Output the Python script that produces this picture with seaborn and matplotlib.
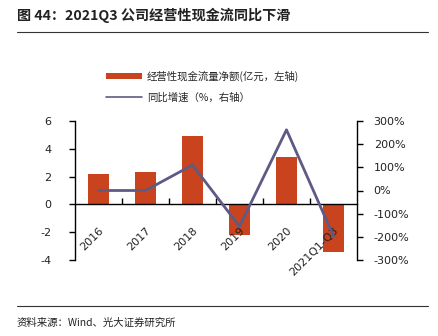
import numpy as np
import pandas as pd
import matplotlib
matplotlib.use("Agg")
import matplotlib.pyplot as plt
from matplotlib.ticker import FixedLocator
from matplotlib.patches import Patch
from matplotlib.lines import Line2D
import seaborn as sns

categories = ["2016", "2017", "2018", "2019", "2020", "2021Q1-Q3"]
cash_flow = [2.2, 2.3, 4.9, -2.2, 3.4, -3.4]          # 亿元, left axis
growth_pct = [0, 0, 110, -155, 262, -197]               # %, right axis
left_ticks = [-4, -2, 0, 2, 4, 6]
right_ticks = [-300, -200, -100, 0, 100, 200, 300]

title = "图 44：2021Q3 公司经营性现金流同比下滑"
source = "资料来源：Wind、光大证券研究所"
bar_label = "经营性现金流量净额(亿元，左轴)"
line_label = "同比增速（%，右轴）"

sns.set_theme(style="white")
plt.rcParams["font.family"] = ["DejaVu Sans", "Noto Sans CJK SC"]
plt.rcParams["axes.axisbelow"] = False

bar_color = "#C9431F"
line_color = "#5D5B85"
tick_color = "#222222"

fig = plt.figure(figsize=(4.38, 3.36), dpi=100)
ax = fig.add_axes([75 / 438, 1 - 260 / 336, (357 - 75) / 438, (260 - 121) / 336])

df = pd.DataFrame({"cat": categories, "val": cash_flow})
sns.barplot(data=df, x="cat", y="val", color=bar_color, width=0.43, saturation=1,
            ax=ax, edgecolor="none")
ax.set_axisbelow(False)
ax.set_xlim(-0.5, len(categories) - 0.5)
ax.set_ylim(-4, 6)
ax.set_xlabel("")
ax.set_ylabel("")

ax2 = ax.twinx()
sns.lineplot(x=np.arange(len(categories)), y=growth_pct, ax=ax2, color=line_color,
             linewidth=2, legend=False)
ax2.set_ylim(-300, 300)
ax2.set_xlim(-0.5, len(categories) - 0.5)

# spines
ax.spines["top"].set_visible(False)
ax2.spines["top"].set_visible(False)
ax2.spines["bottom"].set_visible(False)
ax2.spines["left"].set_visible(False)
ax.spines["right"].set_visible(False)
ax.spines["bottom"].set_position(("data", 0))
for a, s in [(ax, "left"), (ax, "bottom"), (ax2, "right")]:
    a.spines[s].set_color("#000000")
    a.spines[s].set_linewidth(1.0)

ax.set_yticks(left_ticks)
ax.set_yticklabels([str(t) for t in left_ticks])
ax.tick_params(axis="y", direction="out", length=4, width=1, color="black",
               labelsize=8, labelcolor=tick_color, pad=13, left=True)

ax2.set_yticks(right_ticks)
ax2.set_yticklabels([f"{t}%" for t in right_ticks])
ax2.tick_params(axis="y", direction="out", length=4, width=1, color="black",
                labelsize=8, labelcolor=tick_color, pad=8, right=True)

ax.set_xticks(range(len(categories)))
ax.set_xticklabels(categories, rotation=45, ha="right", rotation_mode="anchor")
ax.tick_params(axis="x", length=0, labelsize=8, labelcolor=tick_color, pad=15)
ax.xaxis.set_minor_locator(FixedLocator(np.arange(0.5, len(categories) - 1, 1)))
ax.tick_params(axis="x", which="minor", direction="in", length=4, width=1,
               color="black", bottom=True)
for lbl in ax.get_xticklabels():
    lbl.set_zorder(5)

# legend
handles = [Patch(facecolor=bar_color, edgecolor="none"),
           Line2D([0], [0], color=line_color, linewidth=1.2)]
fig.legend(handles, [bar_label, line_label], loc="upper left",
           bbox_to_anchor=(97 / 438, 1 - 61 / 336), frameon=False,
           handlelength=3.4, handleheight=0.6,
           labelspacing=1.0, handletextpad=0.5,
           prop={"family": ["Noto Sans CJK SC", "DejaVu Sans"], "size": 7.5})

# title and rules
fig.text(17 / 438, 1 - 15 / 336, title, fontsize=10.2, fontweight="bold",
         family=["Noto Sans CJK SC", "DejaVu Sans"], va="center", ha="left",
         color="#222222")
fig.add_artist(Line2D([17 / 438, 428 / 438], [1 - 32 / 336, 1 - 32 / 336],
                      color="#333333", linewidth=0.8))
fig.add_artist(Line2D([17 / 438, 428 / 438], [1 - 306 / 336, 1 - 306 / 336],
                      color="#333333", linewidth=0.8))
fig.text(17 / 438, 1 - 323 / 336, source, fontsize=7.5,
         family=["Noto Sans CJK SC", "DejaVu Sans"], va="center", ha="left",
         color="#222222")

fig.savefig("out.png", dpi=100)
